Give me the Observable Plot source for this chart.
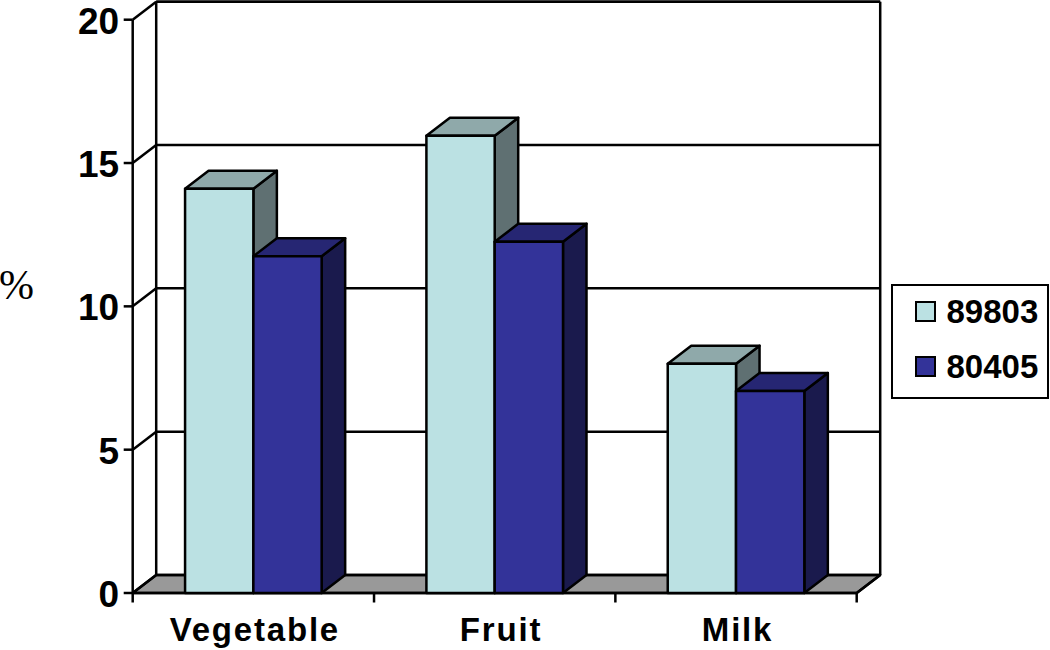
<!DOCTYPE html>
<html>
<head>
<meta charset="utf-8">
<script src="https://cdn.jsdelivr.net/npm/d3@7"></script>
<script src="https://cdn.jsdelivr.net/npm/@observablehq/plot@0.6"></script>
<style>
html,body{margin:0;padding:0;background:#fff;}
#wrap{position:relative;width:1050px;height:650px;overflow:hidden;font-family:"Liberation Sans",Arial,sans-serif;}
#wrap svg{display:block;}
.xlab text{letter-spacing:1.8px;}
#pct{position:absolute;left:-1px;top:263px;font:42px/44px "Liberation Serif",serif;color:#000;}
#legend{position:absolute;left:891px;top:284px;width:154px;height:111px;border:2.5px solid #000;box-sizing:content-box;background:#fff;}
.item{position:absolute;left:21.5px;font-weight:bold;font-size:33px;line-height:36px;color:#000;padding-left:32px;white-space:nowrap;}
.item i{position:absolute;left:0;top:7px;width:17px;height:17px;border:2px solid #000;}
</style>
</head>
<body>
<div id="wrap"></div>
<script>
const categories = ["Vegetable", "Fruit", "Milk"];
const seriesNames = ["89803", "80405"];
const series89803 = [14.1, 15.95, 8.0];
const series80405 = [11.75, 12.25, 7.05];
const yTicks = [0, 5, 10, 15, 20];

const frontColors = ["#bbe1e3", "#333399"];
const topColors = ["#8fa9aa", "#262673"];
const sideColors = ["#5f7072", "#1a1a4d"];
const floorColor = "#999999";

const barW = 0.283, depthX = 0.0974, depthY = 0.628;
const nCat = categories.length, yMax = 20;

const faces = [];
let id = 0;
function face(points, fill) {
  id++;
  for (const [x, y] of points) faces.push({id, x, y, fill});
}
[series89803, series80405].forEach((vals, s) => {
  vals.forEach((v, i) => {
    const x0 = i + 0.5 - barW + s * barW, x1 = x0 + barW;
    face([[x1, 0], [x1 + depthX, depthY], [x1 + depthX, v + depthY], [x1, v]], sideColors[s]);
    face([[x0, v], [x0 + depthX, v + depthY], [x1 + depthX, v + depthY], [x1, v]], topColors[s]);
    face([[x0, 0], [x0, v], [x1, v], [x1, 0]], frontColors[s]);
  });
});

const floorPts = [
  {x: 0, y: 0}, {x: depthX, y: depthY}, {x: nCat + depthX, y: depthY}, {x: nCat, y: 0}
];
const wallEdges = [
  {x1: depthX, y1: depthY, x2: depthX, y2: yMax + depthY},
  {x1: depthX, y1: yMax + depthY, x2: nCat + depthX, y2: yMax + depthY},
  {x1: nCat + depthX, y1: yMax + depthY, x2: nCat + depthX, y2: depthY},
  {x1: nCat, y1: 0, x2: nCat + depthX, y2: depthY},
  ...yTicks.map(t => ({x1: 0, y1: t, x2: depthX, y2: t + depthY})),
  ...yTicks.map(t => ({x1: depthX, y1: t + depthY, x2: nCat + depthX, y2: t + depthY}))
];

const sw = 2.5;
const chart = Plot.plot({
  width: 1050,
  height: 650,
  marginLeft: 132.2,
  marginRight: 193.8,
  marginTop: 19.2,
  marginBottom: 57.5,
  style: {background: "transparent", fontFamily: "'Liberation Sans',Arial,sans-serif", overflow: "visible"},
  x: {domain: [0, nCat]},
  y: {domain: [0, yMax]},
  color: {type: "identity"},
  marks: [
    Plot.line(floorPts, {x: "x", y: "y", fill: floorColor, stroke: "#000", strokeWidth: sw, curve: "linear-closed"}),
    Plot.link(wallEdges, {x1: "x1", y1: "y1", x2: "x2", y2: "y2", stroke: "#000", strokeWidth: sw}),
    Plot.ruleX([0], {y1: 0, y2: yMax, stroke: "#000", strokeWidth: sw}),
    Plot.ruleY([0], {x1: 0, x2: nCat, stroke: "#000", strokeWidth: sw}),
    Plot.line(faces, {x: "x", y: "y", z: "id", fill: "fill", stroke: "#000", strokeWidth: sw, strokeLinejoin: "round", curve: "linear-closed"}),
    Plot.axisY({ticks: yTicks, tickSize: 8.5, tickFormat: () => "", stroke: "#000", strokeWidth: sw, label: null}),
    Plot.axisY({ticks: yTicks, tickSize: 0, tickPadding: 13.5, dy: 2, fontSize: 37, fontWeight: "bold", fill: "#000", label: null}),
    Plot.axisX({ticks: d3.range(nCat + 1), tickSize: 10, tickFormat: () => "", stroke: "#000", strokeWidth: sw, label: null}),
    Plot.axisX({ticks: [0.5, 1.52, 2.5], tickSize: 0, tickPadding: 25, dx: 1.5, tickFormat: d => categories[Math.floor(d)], fontSize: 33, fontWeight: "bold", fill: "#000", label: null, className: "xlab"})
  ]
});

const wrap = document.getElementById("wrap");
wrap.appendChild(chart);

const pct = document.createElement("div");
pct.id = "pct";
pct.textContent = "%";
wrap.appendChild(pct);

const legend = document.createElement("div");
legend.id = "legend";
seriesNames.forEach((name, s) => {
  const it = document.createElement("div");
  it.className = "item";
  it.style.top = (8 + s * 55) + "px";
  const swatch = document.createElement("i");
  swatch.style.background = frontColors[s];
  it.appendChild(swatch);
  it.appendChild(document.createTextNode(name));
  legend.appendChild(it);
});
wrap.appendChild(legend);
</script>
</body>
</html>
